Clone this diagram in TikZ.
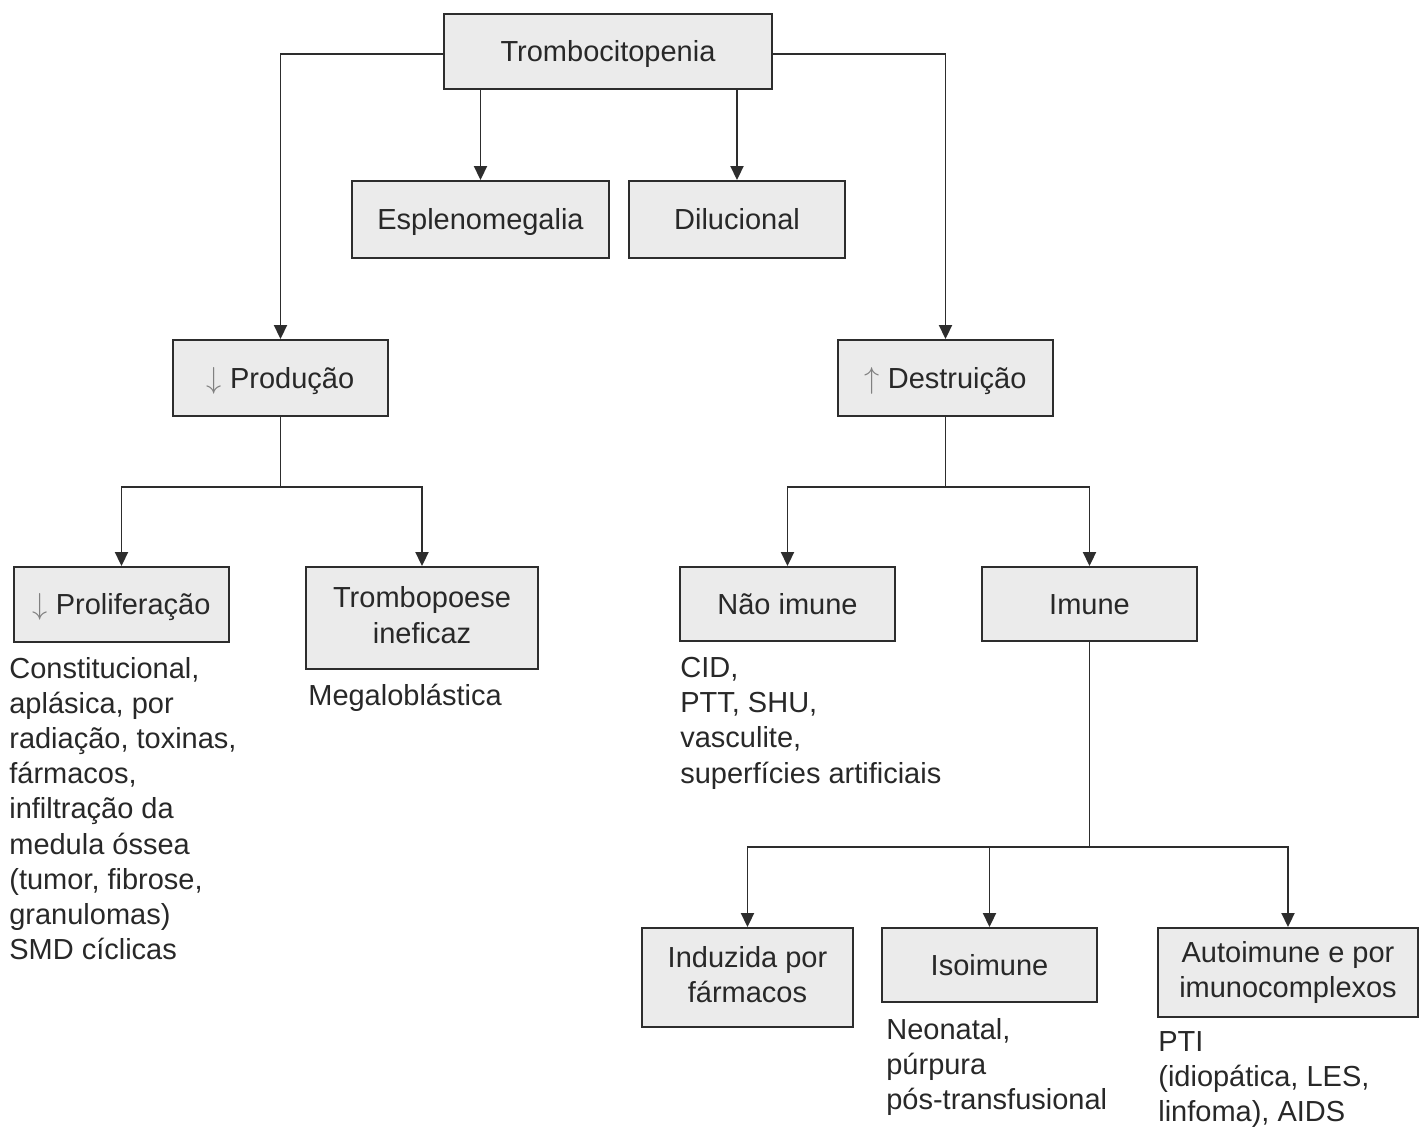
\documentclass[tikz,border=0pt]{standalone}
\usepackage{fontspec}
\setmainfont{Liberation Sans}
\usepackage{xcolor}
\usetikzlibrary{arrows.meta,positioning}
\definecolor{boxFill}{RGB}{235,235,235}
\definecolor{boxLine}{RGB}{45,45,45}
\definecolor{txtGray}{RGB}{40,40,40}
\newcommand{\dnarrow}{{\color{gray}$\downarrow$}}
\newcommand{\uparr}{{\color{gray}$\uparrow$}}
\newcommand{\boxstrut}{\rule[-3.5pt]{0pt}{18.8pt}}

\begin{document}
\begin{tikzpicture}[
    x=0.02cm, y=-0.02cm,
    every node/.style={font=\fontsize{16.5}{20}\selectfont, text=txtGray},
    box/.style={rectangle, draw=boxLine, fill=boxFill, line width=1.1pt, minimum width=4.3cm, minimum height=1.5cm, align=center, execute at begin node=\boxstrut},
    note/.style={anchor=north west, inner sep=0pt, align=left},
    arrow/.style={-{Triangle[length=0.28cm,width=0.26cm]}, line width=1.1pt, draw=boxLine}
]
    \useasboundingbox (0,0) rectangle (1420,1126);

    % Top
    \node[box, minimum width=6.56cm] (trombo) at (608,51.5) {Trombocitopenia};
    \node[box, minimum width=5.14cm, minimum height=1.54cm] (esplen) at (480.5,219.5) {Esplenomegalia};
    \node[box, minimum width=4.32cm, minimum height=1.54cm] (dilu) at (737,219.5) {Dilucional};

    % Production / destruction
    \node[box, minimum height=1.52cm] (prod) at (280.5,378) {\dnarrow\ Produção};
    \node[box, minimum height=1.52cm] (destr) at (945.5,378) {\uparr\ Destruição};

    % Production branch
    \node[box] (prolif) at (121.5,604.5) {\dnarrow\ Proliferação};
    \node[box, minimum width=4.64cm, minimum height=2.04cm] (tpoese) at (422,618) {Trombopoese\\ineficaz};

    % Destruction branch
    \node[box, minimum height=1.48cm] (naoimune) at (787.5,604) {Não imune};
    \node[box, minimum height=1.48cm] (imune) at (1089.5,604) {Imune};

    % Immune branch
    \node[box, minimum width=4.22cm, minimum height=1.98cm] (induz) at (747.5,977.5) {Induzida por\\fármacos};
    \node[box, minimum height=1.48cm] (iso) at (989.5,965) {Isoimune};
    \node[box, minimum width=5.2cm, minimum height=1.78cm] (auto) at (1288,972.5) {Autoimune e por\\imunocomplexos};

    % Notes
    \node[note] (prolifnote) at (9,657) {Constitucional,\\aplásica, por\\radiação, toxinas,\\fármacos,\\infiltração da\\medula óssea\\(tumor, fibrose,\\granulomas)\\SMD cíclicas};
    \node[note] (tpoesenote) at (308,684) {Megaloblástica};
    \node[note] (naonote) at (680,657) {CID,\\PTT, SHU,\\vasculite,\\superfícies artificiais};
    \node[note] (isonote) at (886,1018) {Neonatal,\\púrpura\\pós-transfusional};
    \node[note] (autonote) at (1158,1031) {PTI\\(idiopática, LES,\\linfoma), AIDS};

    % Connectors
    \draw[arrow] ([yshift=-2.5*0.02cm]trombo.west) -| (prod.north);
    \draw[arrow] ([yshift=-2.5*0.02cm]trombo.east) -| (destr.north);
    \draw[arrow] (esplen.north |- trombo.south) -- (esplen.north);
    \draw[arrow] (dilu.north |- trombo.south) -- (dilu.north);

    \draw[arrow] (prod.south) -- ++(0,70) -| (prolif.north);
    \draw[arrow] (prod.south) -- ++(0,70) -| (tpoese.north);

    \draw[arrow] (destr.south) -- ++(0,70) -| (naoimune.north);
    \draw[arrow] (destr.south) -- ++(0,70) -| (imune.north);

    \draw[arrow] (imune.south) -- ++(0,205) -| (induz.north);
    \draw[arrow] (imune.south) -- ++(0,205) -| (iso.north);
    \draw[arrow] (imune.south) -- ++(0,205) -| (auto.north);
\end{tikzpicture}
\end{document}
